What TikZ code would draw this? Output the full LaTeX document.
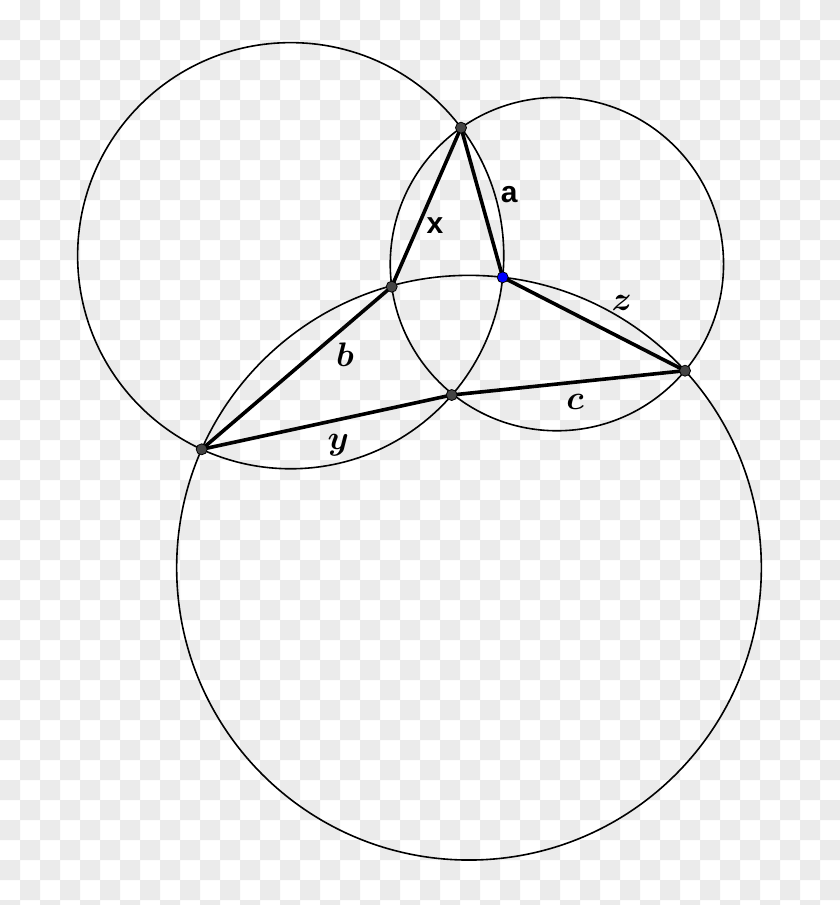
\RequirePackage{fix-cm}
\documentclass[tikz,border=0pt]{standalone}
\usepackage{fontspec}
\usepackage{bm}
\newfontfamily\lblsans{Liberation Sans}
\usetikzlibrary{through}
\definecolor{chk}{RGB}{235,235,235}
\definecolor{dotgray}{RGB}{68,68,68}
\DeclareFontShape{OML}{cmm}{b}{it}{<->cmmib10}{}
\DeclareFontShape{OML}{cmm}{m}{it}{<->cmmi10}{}
\begin{document}
\begin{tikzpicture}[x=1pt,y=-1pt,
  circ/.style={draw=black,line width=1.6pt},
  seg/.style={draw=black,line width=3.6pt,line cap=round},
  dot/.style={circle,draw=black,line width=0.8pt,fill=dotgray,minimum size=11pt,inner sep=0pt},
  bluedot/.style={dot,fill=blue},
  sanslbl/.style={inner sep=0pt,font=\fontsize{30}{36}\selectfont\lblsans\bfseries},
  mathlbl/.style={inner sep=0pt,font=\fontsize{34}{40}\selectfont}]
\useasboundingbox (0,0) rectangle (840,905);
\fill[white] (0,0) rectangle (840,905);
\fill[chk] \foreach \i in {0,...,41} {\foreach \j in {0,...,45} {
  \ifodd\numexpr\i+\j\relax (\i*20,\j*20) rectangle ++(20,20) \fi}};
% points
\coordinate (A) at (461,127.7);
\coordinate (X) at (391.7,286.7);
\coordinate (P) at (502.7,277.3);
\coordinate (B) at (201.7,449.3);
\coordinate (Q) at (451.7,395);
\coordinate (C) at (685,370.7);
% circles
\node[circ,circle through={(B)}] (k1) at (290.7,255.7) {};
\node[circ,circle through={(C)}] (k2) at (556.9,264.1) {};
\node[circ,circle through={(B)}] (k3) at (469,567.7) {};
% segments
\draw[seg] (A) -- (X);
\draw[seg] (A) -- (P);
\draw[seg] (X) -- (B);
\draw[seg] (P) -- (C);
\draw[seg] (B) -- (Q);
\draw[seg] (Q) -- (C);
% dots
\node[dot] (dA) at (A) {};
\node[dot] (dX) at (X) {};
\node[bluedot] (dP) at (P) {};
\node[dot] (dB) at (B) {};
\node[dot] (dQ) at (Q) {};
\node[dot] (dC) at (C) {};
% labels
\node[sanslbl] (lx) at (435,226) {x};
\node[sanslbl] (la) at (509.3,195) {a};
\node[mathlbl] (lb) at (345,355) {$\bm{b}$};
\node[mathlbl] (lz) at (621.7,303.3) {$\bm{z}$};
\node[mathlbl] (lc) at (575,401.7) {$\bm{c}$};
\node[mathlbl] (ly) at (338.3,445) {$\bm{y}$};
\end{tikzpicture}
\end{document}
